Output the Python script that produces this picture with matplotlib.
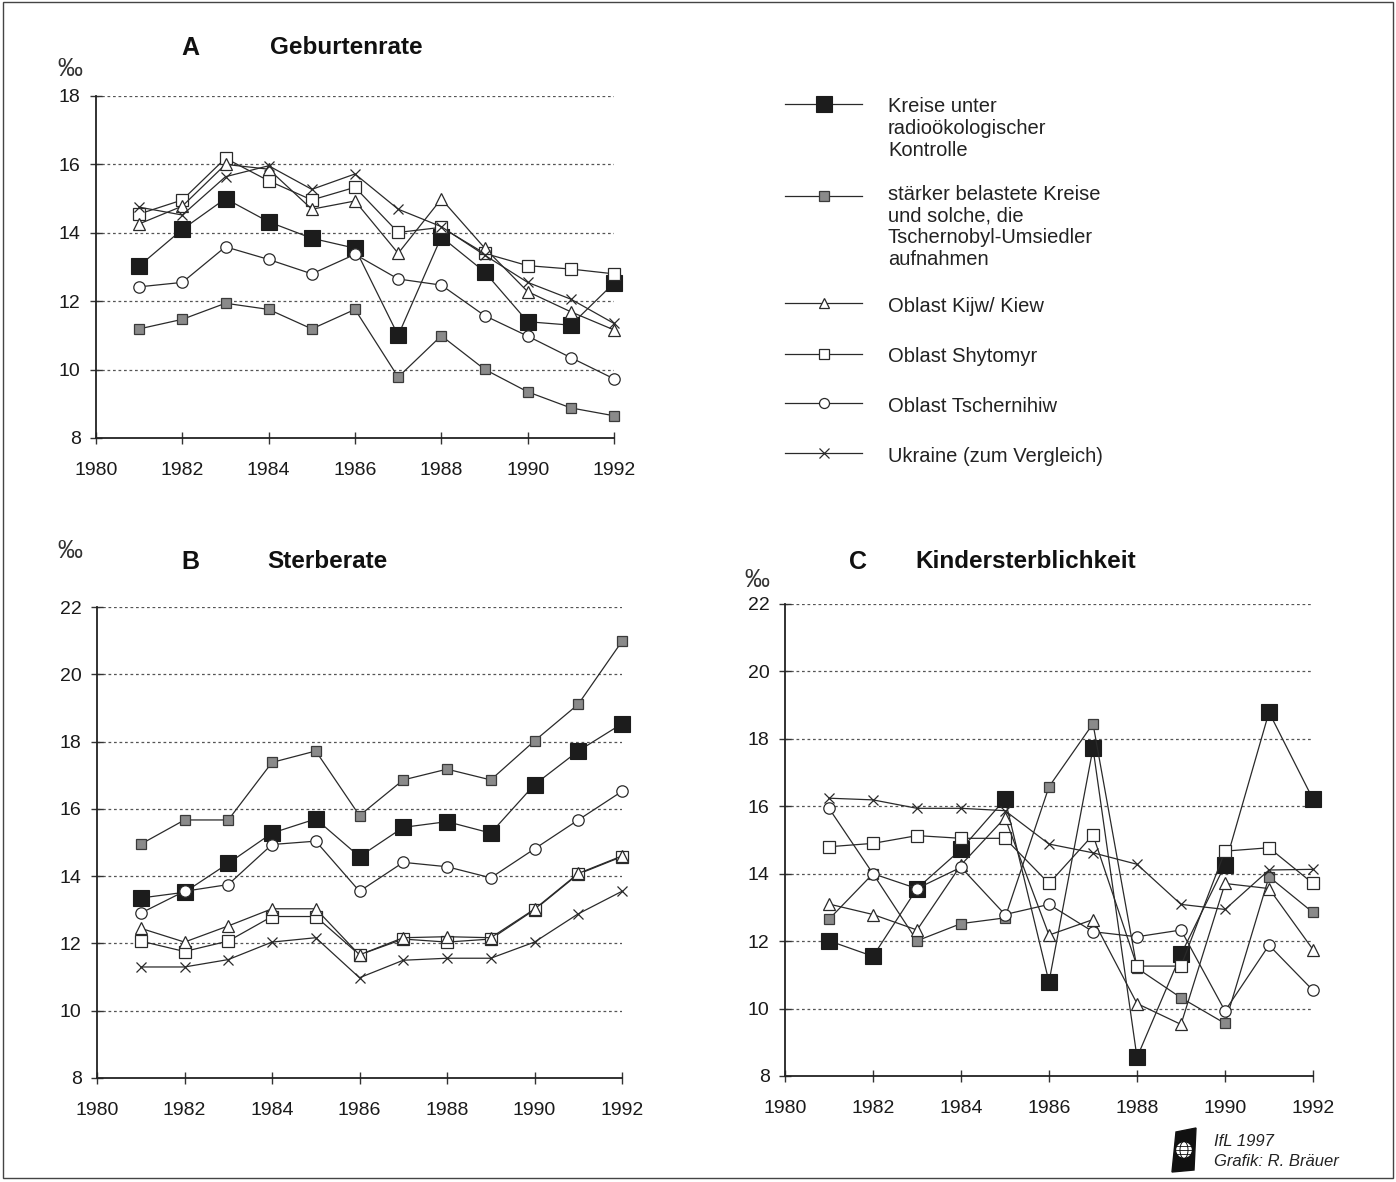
import matplotlib
matplotlib.use('Agg')
import matplotlib.pyplot as plt
from matplotlib.patches import Rectangle, Circle, Ellipse, Polygon

plt.rcParams['font.family'] = ['Liberation Sans', 'DejaVu Sans']

# ---------------- data ----------------
years = [1981, 1982, 1983, 1984, 1985, 1986, 1987, 1988, 1989, 1990, 1991, 1992]
x_ticks = [1980, 1982, 1984, 1986, 1988, 1990, 1992]

names = ["Kreise unter\nradioökologischer\nKontrolle",
         "stärker belastete Kreise\nund solche, die\nTschernobyl-Umsiedler\naufnahmen",
         "Oblast Kijw/ Kiew",
         "Oblast Shytomyr",
         "Oblast Tschernihiw",
         "Ukraine (zum Vergleich)"]

# A  Geburtenrate
a_kreise   = [13.03, 14.1, 15.0, 14.32, 13.84, 13.55, 11.0, 13.88, 12.86, 11.4, 11.3, 12.53]
a_staerker = [11.19, 11.47, 11.94, 11.76, 11.19, 11.76, 9.78, 10.99, 10.01, 9.35, 8.88, 8.65]
a_kiew     = [14.26, 14.78, 16.0, 15.86, 14.69, 14.93, 13.4, 14.99, 13.56, 12.28, 11.69, 11.16]
a_shyt     = [14.55, 14.96, 16.18, 15.52, 14.96, 15.33, 14.01, 14.16, 13.4, 13.04, 12.94, 12.8]
a_tsch     = [12.42, 12.55, 13.59, 13.22, 12.8, 13.37, 12.65, 12.47, 11.58, 10.98, 10.35, 9.73]
a_ukr      = [14.75, 14.52, 15.64, 15.96, 15.27, 15.72, 14.69, 14.18, 13.35, 12.55, 12.06, 11.35]

# B  Sterberate
b_kreise   = [13.35, 13.52, 14.38, 15.28, 15.7, 14.58, 15.45, 15.62, 15.28, 16.72, 17.72, 18.53]
b_staerker = [14.95, 15.67, 15.67, 17.38, 17.72, 15.8, 16.86, 17.18, 16.86, 18.02, 19.11, 20.98]
b_kiew     = [12.45, 12.04, 12.52, 13.03, 13.03, 11.66, 12.17, 12.2, 12.17, 13.02, 14.08, 14.6]
b_shyt     = [12.07, 11.76, 12.07, 12.8, 12.8, 11.66, 12.13, 12.04, 12.13, 13.0, 14.06, 14.58]
b_tsch     = [12.9, 13.55, 13.75, 14.94, 15.04, 13.55, 14.41, 14.28, 13.95, 14.81, 15.67, 16.52]
b_ukr      = [11.3, 11.3, 11.52, 12.04, 12.17, 10.98, 11.5, 11.56, 11.56, 12.04, 12.88, 13.55]

# C  Kindersterblichkeit
c_kreise   = [12.01, 11.55, 13.56, 14.72, 16.21, 10.79, 17.72, 8.55, 11.61, 14.26, 18.79, 16.21]
c_staerker = [12.65, 14.0, 12.01, 12.52, 12.69, 16.58, 18.45, 11.2, 10.32, 9.56, 13.91, 12.85]
c_kiew     = [13.1, 12.79, 12.33, 14.26, 15.66, 12.18, 12.64, 10.15, 9.53, 13.71, 13.56, 11.75]
c_shyt     = [14.8, 14.9, 15.13, 15.05, 15.05, 13.71, 15.15, 11.26, 11.26, 14.67, 14.77, 13.71]
c_tsch     = [15.94, 14.0, 13.56, 14.19, 12.79, 13.09, 12.28, 12.13, 12.33, 9.93, 11.88, 10.54]
c_ukr      = [16.24, 16.19, 15.94, 15.94, 15.87, 14.88, 14.62, 14.28, 13.09, 12.94, 14.11, 14.13]

panels = {
    "A": dict(title="Geburtenrate", ylim=(8, 18), yticks=[8, 10, 12, 14, 16, 18],
              data=[a_kreise, a_staerker, a_kiew, a_shyt, a_tsch, a_ukr]),
    "B": dict(title="Sterberate", ylim=(8, 22), yticks=[8, 10, 12, 14, 16, 18, 20, 22],
              data=[b_kreise, b_staerker, b_kiew, b_shyt, b_tsch, b_ukr]),
    "C": dict(title="Kindersterblichkeit", ylim=(8, 22), yticks=[8, 10, 12, 14, 16, 18, 20, 22],
              data=[c_kreise, c_staerker, c_kiew, c_shyt, c_tsch, c_ukr]),
}

# ---------------- styles ----------------
LC = '#2a2a2a'
styles = [
    dict(marker='s', ms=12.0, mfc='#1c1c1c', mec='#1c1c1c', mew=0.8),
    dict(marker='s', ms=7.2, mfc='#8a8a8a', mec='#3a3a3a', mew=0.9),
    dict(marker='^', ms=8.5, mfc='white', mec='#2a2a2a', mew=0.9),
    dict(marker='s', ms=8.0, mfc='white', mec='#2a2a2a', mew=0.9),
    dict(marker='o', ms=8.2, mfc='white', mec='#2a2a2a', mew=0.9),
    dict(marker='x', ms=7.5, mfc='none', mec='#2a2a2a', mew=0.9),
]
legend_ms = [12.0, 7.2, 7.2, 7.0, 7.2, 6.5]
draw_order = [0, 1, 3, 2, 4, 5]

W, H = 1396, 1182
fig = plt.figure(figsize=(W / 100, H / 100), dpi=100)


def px_axes(l, t, r, b):
    return fig.add_axes([l / W, 1 - b / H, (r - l) / W, (b - t) / H])


boxes = {"A": (96, 96, 614, 438), "B": (97, 607, 622, 1078), "C": (785, 604, 1313, 1076)}
title_pos = {"A": (190, 270, 48), "B": (190, 267, 562), "C": (858, 915, 562)}
permil_pos = {"A": (57, 69), "B": (57, 551), "C": (744, 580)}

for key, p in panels.items():
    ax = px_axes(*boxes[key])
    ax.set_xlim(1980, 1992)
    ax.set_ylim(*p["ylim"])
    for sp in ('top', 'right'):
        ax.spines[sp].set_visible(False)
    for sp in ('left', 'bottom'):
        ax.spines[sp].set_color('#222222')
        ax.spines[sp].set_linewidth(1.3)
    ax.set_xticks(x_ticks)
    ax.set_yticks(p["yticks"])
    ax.tick_params(axis='x', direction='inout', length=9, width=1.0, color='#333333',
                   labelsize=14, pad=12.5, labelcolor='#1a1a1a')
    ax.tick_params(axis='y', direction='inout', length=8, width=1.0, color='#333333',
                   labelsize=14, pad=7, labelcolor='#1a1a1a')
    for yv in p["yticks"][1:]:
        ax.axhline(yv, color='#555555', lw=0.9, ls=(0, (2.2, 2.2)), zorder=1)
    for k, i in enumerate(draw_order):
        st = styles[i]
        ax.plot(years, p["data"][i], color=LC, lw=0.9, marker=st['marker'], ms=st['ms'],
                mfc=st['mfc'], mec=st['mec'], mew=st['mew'], zorder=3 + k * 0.01,
                clip_on=False)
    xa, xt, yt = title_pos[key]
    fig.text(xa / W, 1 - yt / H, key, fontsize=18, fontweight='bold', ha='center',
             va='center', color='#111111')
    fig.text(xt / W, 1 - yt / H, p["title"], fontsize=17.5, fontweight='bold', ha='left',
             va='center', color='#111111')
    px, py = permil_pos[key]
    fig.text(px / W, 1 - py / H, '‰', fontsize=18, ha='left', va='center', color='#333333')

# ---------------- legend ----------------
lax = fig.add_axes([0, 0, 1, 1])
lax.set_xlim(0, W)
lax.set_ylim(H, 0)
lax.axis('off')
leg_rows = [104, 196, 303, 354, 403, 453]
text_first = [104, 191, 304, 354, 403, 453]
for i, name in enumerate(names):
    st = styles[i]
    y = leg_rows[i]
    lax.plot([785, 862], [y, y], color=LC, lw=0.9)
    lax.plot([824], [y], marker=st['marker'], ms=legend_ms[i], mfc=st['mfc'], mec=st['mec'],
             mew=st['mew'], ls='none')
    lax.text(888, text_first[i] - 6.5, name, fontsize=14.5, ha='left', va='top',
             linespacing=1.18, color='#222222')

# credits / logo
lax.text(1214, 1141, 'IfL 1997', fontsize=12, style='italic', ha='left', va='center', color='#222222')
lax.text(1214, 1161, 'Grafik: R. Bräuer', fontsize=12, style='italic', ha='left', va='center', color='#222222')
lax.add_patch(Polygon([[1176, 1132], [1196, 1128], [1194, 1170], [1172, 1172]],
                      closed=True, fc='#111111', ec='#111111'))
lax.add_patch(Circle((1184, 1150), 8.5, fc='white', ec='#111111', lw=1))
lax.add_patch(Ellipse((1184, 1150), 8, 17, fc='none', ec='#111111', lw=0.7))
for dy in (-4, 0, 4):
    lax.plot([1176, 1192], [1150 + dy, 1150 + dy], color='#111111', lw=0.6)

# frame
lax.add_patch(Rectangle((3, 2), 1390, 1176, fill=False, ec='#444444', lw=1.0))

fig.savefig('out.png', dpi=100)
